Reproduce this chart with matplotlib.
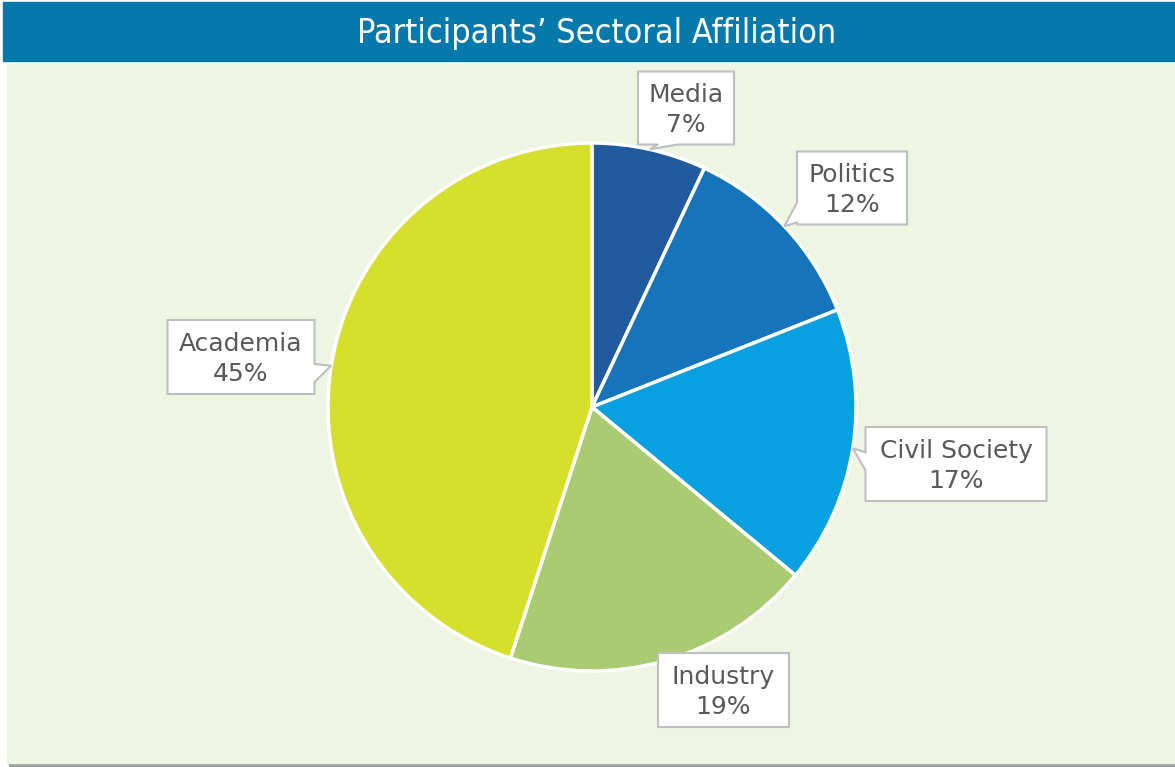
import matplotlib.pyplot as plt
from matplotlib.patches import Rectangle, Polygon
import numpy as np

W, H = 1175, 767

sectors = ['Media', 'Politics', 'Civil Society', 'Industry', 'Academia']
shares = [7, 12, 17, 19, 45]
colors = ['#215a9e', '#1574ba', '#08a0e1', '#abcb72', '#d6df2b']
title = 'Participants\u2019 Sectoral Affiliation'

# label box centre and size (px, image coords)
boxes = [(686, 108, 96, 73), (852, 188, 110, 73), (956, 464, 181, 74),
         (723, 690, 131, 74), (241, 357, 147, 74)]

fig = plt.figure(figsize=(W / 100, H / 100), dpi=100)
ax = fig.add_axes([0, 0, 1, 1])

def Y(y):
    return H - y

# header + panel
ax.add_patch(Rectangle((9, Y(766)), W - 9, 3, color='#9e9e9e', zorder=0))
ax.add_patch(Rectangle((7, Y(763)), W - 7, 763 - 64, color='#eef5e3', zorder=1))
ax.add_patch(Rectangle((3, Y(61)), W - 3, 59, color='#0679ac', zorder=1))
ax.text(597, Y(34), title, color='white', fontsize=24.5, ha='center', va='center',
        fontstretch='condensed', zorder=5)

cx, cy, r = 592, 407, 264
ax.pie(shares, colors=colors, startangle=90, counterclock=False,
       center=(cx, Y(cy)), radius=r, frame=True,
       wedgeprops=dict(edgecolor='white', linewidth=2.5, zorder=3))

# callouts
cum = np.cumsum([0] + shares)
for i, name in enumerate(sectors):
    mid = np.deg2rad(90 - (cum[i] + shares[i] / 2) * 3.6)
    tx, ty = cx + r * np.cos(mid), cy - r * np.sin(mid)
    bx, by, bw, bh = boxes[i]
    x0, x1, y0, y1 = bx - bw / 2, bx + bw / 2, by - bh / 2, by + bh / 2
    pts = [(x0, y0), (x1, y0), (x1, y1), (x0, y1)]
    inside = x0 <= tx <= x1 and y0 <= ty <= y1
    if not inside:
        if ty > y1:      # notch on bottom edge
            a = max(x0 + 12, min(tx, x1 - 40))
            pts = [(x0, y0), (x1, y0), (x1, y1), (a + 28, y1), (tx, ty), (a + 8, y1), (x0, y1)]
        elif tx > x1:    # right edge
            b = max(y0 + 10, min(ty, y1 - 30))
            pts = [(x0, y0), (x1, y0), (x1, b), (tx, ty), (x1, b + 18), (x1, y1), (x0, y1)]
        elif tx < x0:    # left edge
            b = max(y0 + 10, min(ty, y1 - 30))
            pts = [(x0, y0), (x1, y0), (x1, y1), (x0, y1), (x0, b + 22), (tx, ty), (x0, b + 4)]
    if tx < x0 and ty > y1 - 20 and i == 1:
        pts = [(x0, y0), (x1, y0), (x1, y1), (x0, y1), (x0, y1 - 2), (tx, ty), (x0, y1 - 22)]
    ax.add_patch(Polygon([(p[0], Y(p[1])) for p in pts], closed=True,
                         facecolor='white', edgecolor='#bfbfbf', linewidth=1.5, zorder=6))
    ax.text(bx, Y(by + 2), '%s\n%d%%' % (name, shares[i]), color='#595959', fontsize=18,
            ha='center', va='center', linespacing=1.27, zorder=7)

ax.set_xlim(0, W)
ax.set_ylim(0, H)
ax.set_aspect('auto')
ax.axis('off')
fig.savefig('out.png', dpi=100, facecolor='white')
